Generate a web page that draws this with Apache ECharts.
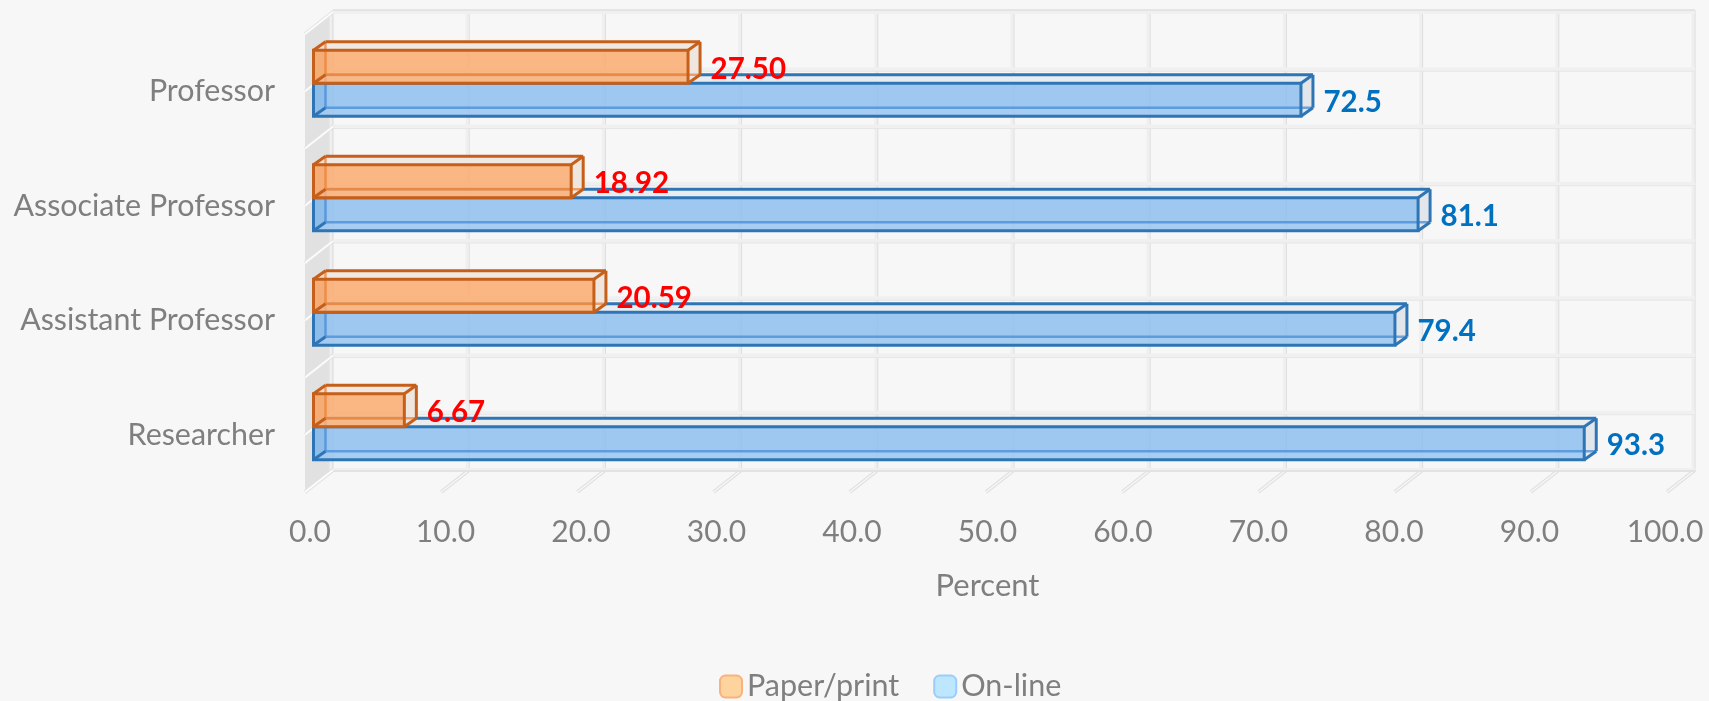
<!DOCTYPE html>
<html><head><meta charset="utf-8">
<style>html,body{margin:0;padding:0;background:#f7f7f7}#c{width:1709px;height:701px}</style>
<script src="https://cdn.jsdelivr.net/npm/echarts@6/dist/echarts.min.js"></script>
</head><body><div id="c"></div>
<script>
const categories = ['Researcher','Assistant Professor','Associate Professor','Professor'];
const paperPrint = [6.67,20.59,18.92,27.50];
const onLine = [93.3,79.4,81.1,72.5];
const xTicks = [0,10,20,30,40,50,60,70,80,90,100];
const wallRows = [0,1,2,3,4,5,6,7,8];

const FONT='Lato';
const GREY='#7f7f7f';
const WALL_DX=28, WALL_DY=-22, BAR_DX=8.5, BAR_DY=-8, BOX_DX=12, BOX_DY=-8.5, BAR_FRAC=0.288;

function line(x1,y1,x2,y2,stroke,w,z2){
  return {type:'line',z2:z2||0,shape:{x1,y1,x2,y2},style:{stroke,lineWidth:w,lineCap:'butt',fill:null},silent:true};
}
function poly(points,fill,z2){
  return {type:'polygon',z2:z2||0,shape:{points},style:{fill,stroke:null},silent:true};
}
function tickItem(params,api){
  const cs=params.coordSys, x=api.coord([api.value(0),0])[0], bottom=cs.y+cs.height, top=cs.y;
  const bx=x+WALL_DX;
  return {type:'group',children:[
    line(bx-2,top+WALL_DY,bx-2,bottom+WALL_DY,'#efefef',3),
    line(bx,top+WALL_DY-2,bx,bottom+WALL_DY+1,'#dcdcdc',1),
    line(x,bottom,bx,bottom+WALL_DY,'#e0e0e0',3.5),
    line(x,bottom,bx,bottom+WALL_DY,'#f7f7f7',1.5)
  ]};
}
function rowItem(params,api){
  const cs=params.coordSys, i=api.value(0), n=wallRows.length-1;
  const y=cs.y+cs.height*i/n, x0=cs.x, x1=cs.x+cs.width;
  const ch=[];
  if(i===0){
    ch.push(poly([[x0,cs.y],[x0+WALL_DX,cs.y+WALL_DY],[x0+WALL_DX,cs.y+cs.height+WALL_DY],[x0,cs.y+cs.height]],'#e1e1e1'));
  }
  const by=y+WALL_DY;
  ch.push(line(x0+WALL_DX,by,x1+WALL_DX,by,'#f0f0f0',4,1));
  if(i===0||i===n) ch.push(line(x0+WALL_DX,i===0?by-2:by+1,x1+WALL_DX,i===0?by-2:by+1,'#d4d4d4',1,2));
  else ch.push(line(x0+WALL_DX,by+2,x1+WALL_DX,by+2,'#e6e6e6',1,2));
  ch.push(line(x0,y,x0+WALL_DX,by,'#e2e2e2',3.5,3));
  ch.push(line(x0,y,x0+WALL_DX,by,'#fbfbfb',2,4));
  return {type:'group',children:ch};
}
function makeBar(side,pal,digits,labelColor){
  return function(params,api){
    const v=api.value(0), i=api.value(1);
    const o=api.coord([0,i]), p=api.coord([v,i]);
    const h=api.size([0,1])[1]*BAR_FRAC;
    const c=o[1]+BAR_DY;
    const T=side<0?c-h:c, B=side<0?c:c+h;
    const L=o[0]+BAR_DX, R=p[0]+BAR_DX;
    const dx=BOX_DX, dy=BOX_DY;
    const w=3;
    return {type:'group',children:[
      poly([[L,T],[L+dx,T+dy],[R+dx,T+dy],[R,T]],pal.top,1),
      poly([[R,T],[R+dx,T+dy],[R+dx,B+dy],[R,B]],pal.side,1),
      poly([[L,T],[R,T],[R,B],[L,B]],pal.front,2),
      poly([[L,T],[L+dx,T+dy],[L+dx,B+dy],[L,B]],pal.left,3),
      poly([[L,B],[L+dx,B+dy],[R+dx,B+dy],[R,B]],pal.bottom,3),
      line(L+dx,B+dy,R+dx,B+dy,pal.mid,2.5,4),
      line(L+dx,T+dy,L+dx,B+dy,pal.mid,2.5,4),
      line(L,T,L+dx,T+dy,pal.dark,w,5),
      line(L+dx,T+dy,R+dx,T+dy,pal.dark,w,5),
      line(R+dx,T+dy,R+dx,B+dy,pal.dark,w,5),
      line(R,T,R+dx,T+dy,pal.dark,w,5),
      line(R,B,R+dx,B+dy,pal.dark,w,5),
      line(L,B,L+dx,B+dy,pal.dark,w,5),
      {type:'rect',z2:6,shape:{x:L,y:T,width:R-L,height:B-T},style:{fill:null,stroke:pal.dark,lineWidth:w},silent:true},
      {type:'text',z2:7,silent:true,style:{x:R+dx+10.5,y:(T+B)/2+2.5,text:v.toFixed(digits),fill:labelColor,
        font:'bold 29.5px '+FONT,textAlign:'left',textVerticalAlign:'middle'}}
    ]};
  };
}
const orangePal={top:'#f0e8e2',side:'#efe6e0',mid:'rgba(237,125,49,.7)',dark:'#c55f1a',left:'rgba(237,125,49,.1)',bottom:'rgba(255,255,255,.06)',front:'rgba(250,170,110,.85)'};
const bluePal={top:'#e9edf0',side:'#e2e6ea',mid:'rgba(70,140,215,.75)',dark:'#2e75b6',left:'rgba(60,130,210,.12)',bottom:'rgba(255,255,255,.1)',front:'rgba(142,192,238,.85)'};

const chart=echarts.init(document.getElementById('c'),null,{renderer:'canvas'});
chart.setOption({
  animation:false,
  backgroundColor:'#f7f7f7',
  textStyle:{fontFamily:FONT},
  grid:[{left:305,top:34,width:1362,height:458},{left:310,top:34,width:1355,height:458}],
  xAxis:[{type:'value',gridIndex:0,min:0,max:100,interval:10,
    axisLine:{show:false},axisTick:{show:false},splitLine:{show:false},axisLabel:{show:false}},
    {type:'value',gridIndex:1,min:0,max:100,interval:10,
    name:'Percent',nameLocation:'middle',nameGap:78,
    nameTextStyle:{color:GREY,fontSize:31,fontFamily:FONT},
    axisLine:{show:false},axisTick:{show:false},splitLine:{show:false},
    axisLabel:{color:GREY,fontSize:30,fontFamily:FONT,margin:25,formatter:v=>v.toFixed(1),showMinLabel:true,showMaxLabel:true}}],
  yAxis:[{type:'category',gridIndex:0,data:categories,
    axisLine:{show:false},axisTick:{show:false},splitLine:{show:false},
    axisLabel:{color:GREY,fontSize:30.4,fontFamily:FONT,margin:30}},
    {type:'category',gridIndex:1,data:categories,show:false}],
  legend:{data:['Paper/print','On-line'],left:714,top:666,itemWidth:22,itemHeight:22,itemGap:34,icon:'roundRect',
    textStyle:{color:GREY,fontSize:30.5,fontFamily:FONT,padding:0},selectedMode:false},
  series:[
    {type:'custom',name:'wallRows',z:1,silent:true,coordinateSystem:'cartesian2d',data:wallRows.map(r=>[r]),encode:{x:0},renderItem:rowItem},
    {type:'custom',name:'xTicks',z:1,silent:true,coordinateSystem:'cartesian2d',data:xTicks.map(t=>[t]),encode:{x:0},renderItem:tickItem},
    {type:'custom',name:'Paper/print',z:4,coordinateSystem:'cartesian2d',
     data:paperPrint.map((v,i)=>[v,i]),encode:{x:0,y:1},
     itemStyle:{color:'#fdd49e',borderColor:'#f9b27c',borderWidth:2},
     renderItem:makeBar(-1,orangePal,2,'#ff0000')},
    {type:'custom',name:'On-line',z:3,coordinateSystem:'cartesian2d',
     data:onLine.map((v,i)=>[v,i]),encode:{x:0,y:1},
     itemStyle:{color:'#bde6ff',borderColor:'#9ccdfa',borderWidth:2},
     renderItem:makeBar(1,bluePal,1,'#0070c0')}
  ]
});
</script></body></html>
